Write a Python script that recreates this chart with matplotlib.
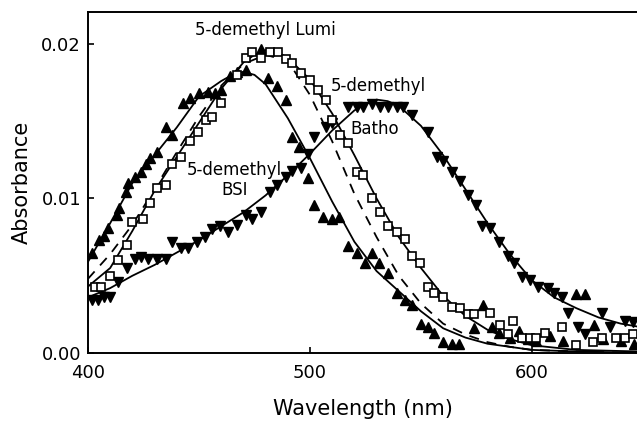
import matplotlib
matplotlib.use("Agg")
import matplotlib.pyplot as plt

# measured points: 5-demethyl BSI (filled up triangles)
bsi_x = [402, 405, 407, 409, 413, 414, 417, 418, 421, 424, 426, 428, 431, 435, 438, 443, 446, 450,
         454, 457, 460, 464, 467, 471, 478, 481, 485, 489, 492, 495, 499, 502, 506, 510, 513, 517,
         521, 525, 528, 531, 535, 539, 543, 546, 550, 553, 556, 560, 564, 567, 574, 578, 582, 585,
         590, 594, 598, 602, 608, 614, 620, 624, 628, 632, 640, 646]
bsi_y = [0.0065, 0.0073, 0.0076, 0.0081, 0.0089, 0.0094, 0.0104, 0.0110, 0.0114, 0.0117, 0.0122,
         0.0126, 0.0130, 0.0146, 0.0141, 0.0162, 0.0165, 0.0168, 0.0169, 0.0168, 0.0170, 0.0179,
         0.0182, 0.0183, 0.0197, 0.0178, 0.0173, 0.0164, 0.0140, 0.0133, 0.0113, 0.0096, 0.0088,
         0.0087, 0.0088, 0.0069, 0.0065, 0.0058, 0.0065, 0.0058, 0.0052, 0.0039, 0.0034, 0.0031,
         0.0019, 0.0017, 0.0013, 0.0007, 0.0006, 0.0006, 0.0016, 0.0031, 0.0017, 0.0013, 0.0010,
         0.0014, 0.0009, 0.0008, 0.0011, 0.0008, 0.0038, 0.0038, 0.0018, 0.0009, 0.0008, 0.0006]

# measured points: 5-demethyl Lumi (open squares)
lumi_x = [403, 406, 410, 413.5, 417.5, 420, 425, 428, 431, 435, 438, 442, 446, 449.5, 453, 456,
          460, 467, 471, 474, 478, 482, 485.6, 489, 492, 496, 500, 503.6, 507, 510, 513.5, 517,
          521, 524, 528, 531.5, 535, 539, 543, 546, 549.5, 553, 556, 560, 564, 567.5, 571, 574,
          581, 585.5, 589, 591.5, 595.5, 599, 602, 606, 613.5, 620, 627.5, 631.5, 638, 642, 645.5]
lumi_y = [0.0043, 0.0043, 0.0050, 0.0060, 0.0070, 0.0085, 0.0087, 0.0097, 0.0107, 0.0109, 0.0122,
          0.0127, 0.0137, 0.0143, 0.0151, 0.0153, 0.0162, 0.0180, 0.0191, 0.0195, 0.0191, 0.0195,
          0.0195, 0.0190, 0.0188, 0.0181, 0.0177, 0.0170, 0.0164, 0.0151, 0.0141, 0.0136, 0.0117,
          0.0115, 0.0100, 0.0091, 0.0082, 0.0078, 0.0074, 0.0063, 0.0058, 0.0043, 0.0039, 0.0036,
          0.0030, 0.0029, 0.0025, 0.0025, 0.0026, 0.0018, 0.0012, 0.0021, 0.0010, 0.0010, 0.0010,
          0.0013, 0.0017, 0.0005, 0.0007, 0.0010, 0.0010, 0.0010, 0.0012]

# measured points: 5-demethyl Batho (filled down triangles)
batho_x = [402, 404.5, 407, 410, 413.5, 417.5, 421, 424, 427, 431, 435, 438, 442, 445, 449, 452.7,
           456, 459.5, 463, 467, 471, 474, 478, 482, 485, 489, 492, 496, 499, 502, 507, 510, 517,
           521, 524, 528, 531.5, 535, 539, 542, 546, 553, 557, 560, 564, 567.5, 571, 575, 577.5,
           581, 585, 589, 592, 595.5, 599, 602.7, 607, 610, 613.5, 616, 620.7, 624, 631.5, 635,
           642, 645.5]
batho_y = [0.0034, 0.0034, 0.0036, 0.0036, 0.0046, 0.0055, 0.0061, 0.0062, 0.0061, 0.0061, 0.0061,
           0.0072, 0.0068, 0.0068, 0.0072, 0.0075, 0.0080, 0.0082, 0.0078, 0.0083, 0.0089, 0.0087,
           0.0091, 0.0104, 0.0109, 0.0114, 0.0118, 0.0120, 0.0129, 0.0140, 0.0146, 0.0149, 0.0159,
           0.0159, 0.0159, 0.0161, 0.0159, 0.0159, 0.0159, 0.0159, 0.0154, 0.0143, 0.0127, 0.0124,
           0.0117, 0.0111, 0.0102, 0.0096, 0.0082, 0.0081, 0.0072, 0.0063, 0.0058, 0.0049, 0.0047,
           0.0043, 0.0042, 0.0039, 0.0036, 0.0026, 0.0017, 0.0012, 0.0026, 0.0017, 0.0021, 0.0020]

# fitted curves
bsi_fit_x = [400, 410, 420, 430, 440, 450, 460, 465, 470, 475, 480, 490, 500, 510, 520, 530, 540,
             550, 560, 570, 580, 590, 600, 620, 648]
bsi_fit_y = [0.0059, 0.0084, 0.0110, 0.0128, 0.0146, 0.0166, 0.0176, 0.0180, 0.0182, 0.0180, 0.0174,
             0.0152, 0.0126, 0.0098, 0.0072, 0.0053, 0.0040, 0.0027, 0.0016, 0.0010, 0.0006, 0.0004,
             0.0002, 0.0001, 0.0000]

lumi_fit_x = [400, 410, 420, 430, 440, 450, 460, 470, 475, 480, 485, 490, 500, 510, 520, 530, 540,
              550, 560, 570, 580, 590, 600, 620, 648]
lumi_fit_y = [0.0043, 0.0055, 0.0079, 0.0105, 0.0127, 0.0149, 0.0171, 0.0188, 0.0193, 0.0196, 0.0195,
              0.0191, 0.0177, 0.0155, 0.0128, 0.0100, 0.0075, 0.0055, 0.0037, 0.0024, 0.0015, 0.0009,
              0.0005, 0.0002, 0.0001]

dash_fit_x = [400, 410, 420, 430, 440, 450, 460, 470, 480, 490, 500, 510, 520, 530, 540, 550, 560,
              570, 580, 590, 600, 620, 648]
dash_fit_y = [0.0048, 0.0064, 0.0083, 0.0106, 0.0130, 0.0153, 0.0173, 0.0187, 0.0193, 0.0189, 0.0167,
              0.0137, 0.0103, 0.0075, 0.0050, 0.0032, 0.0019, 0.0012, 0.0007, 0.0004, 0.0002, 0.0001,
              0.0000]

batho_fit_x = [400, 410, 420, 430, 440, 450, 460, 470, 480, 490, 500, 510, 520, 525, 530, 535, 540,
               550, 560, 570, 580, 590, 600, 610, 620, 630, 640, 648]
batho_fit_y = [0.0036, 0.0042, 0.0050, 0.0057, 0.0065, 0.0073, 0.0082, 0.0091, 0.0102, 0.0115, 0.0129,
               0.0144, 0.0157, 0.0161, 0.0164, 0.0163, 0.0160, 0.0147, 0.0128, 0.0106, 0.0084, 0.0064,
               0.0047, 0.0036, 0.0029, 0.0023, 0.0019, 0.0017]

fig = plt.figure(figsize=(6.37, 4.25), dpi=100)
ax = fig.add_axes([0.1381, 0.1694, 0.8619, 0.8024])

lw = 1.3
ax.plot(bsi_fit_x, bsi_fit_y, "k-", lw=lw)
ax.plot(lumi_fit_x, lumi_fit_y, "k-", lw=lw)
ax.plot(dash_fit_x, dash_fit_y, color="k", lw=lw, ls=(0, (5.5, 4.5)))
ax.plot(batho_fit_x, batho_fit_y, "k-", lw=lw)

ax.plot(bsi_x, bsi_y, "^", color="k", ms=6.5, ls="none")
ax.plot(batho_x, batho_y, "v", color="k", ms=6.5, ls="none")
ax.plot(lumi_x, lumi_y, "s", mfc="white", mec="k", mew=1.2, ms=5.5, ls="none")

ax.set_xlim(400, 647.3)
ax.set_ylim(0, 0.02207)
ax.set_xticks([400, 500, 600])
ax.set_yticks([0.00, 0.01, 0.02])
ax.yaxis.set_major_formatter(matplotlib.ticker.FormatStrFormatter("%.2f"))
ax.tick_params(direction="in", length=4, width=1.2, labelsize=13)
ax.tick_params(axis="x", pad=8)
ax.tick_params(axis="y", pad=5)
for s in ["left", "bottom", "top"]:
    ax.spines[s].set_linewidth(1.4)
ax.spines["right"].set_visible(False)

ax.set_xlabel("Wavelength (nm)", fontsize=15)
ax.set_ylabel("Absorbance", fontsize=15)
ax.xaxis.set_label_coords(0.5, -0.135)
ax.yaxis.set_label_coords(-0.102, 0.5)

ax.text(480, 0.0209, "5-demethyl Lumi", fontsize=12, ha="center", va="center")
ax.text(466, 0.0112, "5-demethyl\nBSI", fontsize=12, ha="center", va="center", linespacing=1.1)
ax.text(531, 0.0173, "5-demethyl", fontsize=12, ha="center", va="center")
ax.text(529, 0.0145, "Batho", fontsize=12, ha="center", va="center")

plt.savefig("out.png", dpi=100)
plt.close()
